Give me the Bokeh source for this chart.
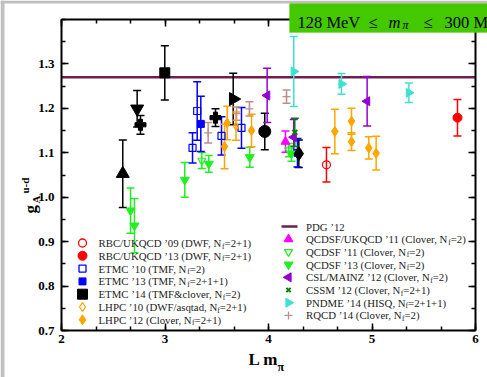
import math
from bokeh.plotting import figure
from bokeh.models import (Range1d, LinearAxis, BoxAnnotation, Label, FixedTicker,
                          CustomJSTickFormatter)
from bokeh.core.properties import value
from bokeh.embed import file_html
from bokeh.resources import INLINE

# ---------------- data ----------------
PDG_VALUE = 1.2701

rbc09_x = [4.560]; rbc09_y = [1.073]; rbc09_e = [0.039]
rbc13_x = [5.826]; rbc13_y = [1.179]; rbc13_e = [0.041]
etmc10_x = [3.266, 3.311, 3.546, 3.739]
etmc10_y = [1.111, 1.194, 1.138, 1.156]
etmc10_e = [0.034, 0.066, 0.043, 0.046]
etmc13_x = [3.346, 4.280]
etmc13_y = [1.165, 1.100]
etmc13_e = [0.062, 0.032]
etmc14_x = [2.592, 2.731, 2.763, 2.998, 3.488, 3.659, 3.964, 4.293]
etmc14_y = [1.053, 1.199, 1.163, 1.280, 1.179, 1.221, 1.148, 1.098]
etmc14_e = [0.076, 0.041, 0.021, 0.061, 0.020, 0.058, 0.041, 0.031]
lhpc10_x = [3.686]; lhpc10_y = [1.160]; lhpc10_e = [0.032]
lhpc12_x = [3.575, 3.601, 3.836, 4.641, 4.802, 4.802, 4.969, 5.040]
lhpc12_y = [1.114, 1.167, 1.150, 1.148, 1.171, 1.125, 1.111, 1.099]
lhpc12_e = [0.050, 0.0375, 0.0365, 0.050, 0.029, 0.020, 0.025, 0.038]
qcdsfuk11_x = [4.164]; qcdsfuk11_y = [1.125]; qcdsfuk11_e = [0.024]
qcdsf11_x = [3.356, 4.196]; qcdsf11_y = [1.0825, 1.106]; qcdsf11_e = [0.018, 0.015]
qcdsf13_x = [2.667, 2.705, 3.191, 3.423, 3.819, 4.222]
qcdsf13_y = [0.970, 0.936, 1.039, 1.075, 1.090, 1.098]
qcdsf13_e = [0.051, 0.061, 0.039, 0.019, 0.0225, 0.017]
csl12_x = [3.987, 4.953, 4.244]; csl12_y = [1.229, 1.216, 1.135]; csl12_e = [0.061, 0.0555, 0.040]
cssm12_x = [4.254]; cssm12_y = [1.146]; cssm12_e = [0.032]
pndme14_x = [4.244, 4.705, 5.356]; pndme14_y = [1.283, 1.255, 1.235]; pndme14_e = [0.079, 0.0235, 0.022]
rqcd14_x = [4.174, 3.816, 3.417, 3.691]; rqcd14_y = [1.2265, 1.199, 1.145, 1.188]; rqcd14_e = [0.015, 0.016, 0.023, 0.015]

x_ticks = [2, 3, 4, 5, 6]
y_ticks = [0.7, 0.8, 0.9, 1.0, 1.1, 1.2, 1.3]

# ---------------- layout helpers ----------------
W, H = 487, 377
X0, X1, Y0, Y1 = 2.0, 6.0, 0.7, 1.4          # visible plot box
FL, FR, FT, FB = 61, 475, 19, 330           # plot box edges on the canvas (px)
SX = (FR - FL) / (X1 - X0)
SY = (FB - FT) / (Y1 - Y0)
XS, XE = X0 - FL / SX, X0 - FL / SX + W / SX
YE = Y1 + FT / SY
YS = YE - H / SY

def dx(px):
    return XS + px / SX
def dy(py):
    return YE - py / SY

SERIF = "Liberation Serif"

p = figure(width=W, height=H, x_range=Range1d(XS, XE), y_range=Range1d(YS, YE),
           output_backend="svg", toolbar_location=None,
           min_border_left=0, min_border_right=0, min_border_top=0, min_border_bottom=0)
p.xgrid.visible = False
p.ygrid.visible = False
p.outline_line_color = None
p.background_fill_color = "white"
p.border_fill_color = "white"

def style_axis(ax, ticks, minor, bounds, loc, labels=True):
    ax.ticker = FixedTicker(ticks=ticks, minor_ticks=minor)
    ax.bounds = bounds
    ax.fixed_location = loc
    ax.major_tick_in = 7
    ax.major_tick_out = 0
    ax.minor_tick_in = 4
    ax.minor_tick_out = 0
    ax.major_tick_line_width = 1.5
    ax.minor_tick_line_width = 1.5
    ax.axis_line_width = 2
    ax.major_label_text_font = SERIF
    ax.major_label_text_font_style = "bold"
    ax.major_label_text_font_size = "13px"
    ax.major_label_text_color = "black"
    if not labels:
        ax.formatter = CustomJSTickFormatter(code="return ''")
        ax.major_label_standoff = 0

x_minor = [2 + i / 3 for i in range(13)]
y_minor = [0.7 + i * 0.05 for i in range(15)]
style_axis(p.xaxis[0], x_ticks, x_minor, (X0, X1), Y0)
style_axis(p.yaxis[0], y_ticks, y_minor, (Y0, Y1), X0)
p.xaxis[0].major_label_standoff = 4
p.yaxis[0].major_label_standoff = 7
p.yaxis[0].formatter = CustomJSTickFormatter(code="return tick.toFixed(1)")
top_ax = LinearAxis()
right_ax = LinearAxis()
style_axis(top_ax, x_ticks, x_minor, (X0, X1), Y1, labels=False)
style_axis(right_ax, y_ticks, y_minor, (Y0, Y1), X1, labels=False)
p.add_layout(top_ax, "above")
p.add_layout(right_ax, "right")

# grey page strips of the original screenshot
p.add_layout(BoxAnnotation(right=dx(4), fill_color="#c0c0c0", fill_alpha=1, line_alpha=0))
p.add_layout(BoxAnnotation(bottom=dy(3), fill_color="#c0c0c0", fill_alpha=1, line_alpha=0))

# PDG line
p.line([X0, X1], [PDG_VALUE, PDG_VALUE], line_color="#6e1e50", line_width=2.5)

def errbars(xs, ys, es, color, cap=8, lw=1.5, alpha=1.0):
    lo = [y - e for y, e in zip(ys, es)]
    hi = [y + e for y, e in zip(ys, es)]
    p.segment(xs, lo, xs, hi, line_color=color, line_width=lw, line_alpha=alpha)
    p.scatter(xs + xs, lo + hi, marker="dash", size=cap, line_color=color, line_width=lw,
              line_alpha=alpha)

RED, BLUE, ORANGE, MAG, GREEN, PURPLE, DKGREEN, CYAN, ROSY = (
    "#ff0000", "#0000ff", "#ffa500", "#ff00ff", "#22ee22", "#9400d3", "#008000", "#40e0d0", "#bc8f8f")

# error bars
errbars(etmc14_x, etmc14_y, etmc14_e, "black")
errbars(qcdsf13_x, qcdsf13_y, qcdsf13_e, GREEN)
errbars(qcdsf11_x, qcdsf11_y, qcdsf11_e, GREEN)
errbars(etmc10_x, etmc10_y, etmc10_e, BLUE)
errbars(etmc13_x, etmc13_y, etmc13_e, BLUE)
errbars(rqcd14_x, rqcd14_y, rqcd14_e, ROSY)
errbars(lhpc10_x, lhpc10_y, lhpc10_e, ORANGE)
errbars(lhpc12_x, lhpc12_y, lhpc12_e, ORANGE)
errbars(csl12_x, csl12_y, csl12_e, PURPLE)
errbars(pndme14_x, pndme14_y, pndme14_e, CYAN)
errbars(cssm12_x, cssm12_y, cssm12_e, DKGREEN)
errbars(qcdsfuk11_x, qcdsfuk11_y, qcdsfuk11_e, MAG)
errbars(rbc09_x, rbc09_y, rbc09_e, RED)
errbars(rbc13_x, rbc13_y, rbc13_e, RED)

# markers
p.scatter(etmc13_x, etmc13_y, marker="square", size=7, color=BLUE)
p.scatter(etmc10_x, etmc10_y, marker="square", size=7, fill_color="white", fill_alpha=0,
          line_color=BLUE, line_width=1.2)
p.scatter(rqcd14_x, rqcd14_y, marker="cross", size=8, line_color=ROSY, line_width=1.2)
p.scatter(lhpc10_x, lhpc10_y, marker="diamond", size=8, fill_alpha=0, line_color=ORANGE, line_width=1.2)
p.scatter(lhpc12_x, lhpc12_y, marker="diamond", size=10, color=ORANGE)
p.scatter(qcdsf13_x, qcdsf13_y, marker="inverted_triangle", size=9, color=GREEN)
p.scatter(qcdsf11_x, qcdsf11_y, marker="inverted_triangle", size=8, fill_alpha=0,
          line_color=GREEN, line_width=1.2)
p.scatter(csl12_x, csl12_y, marker="triangle", angle=math.pi / 2, size=9, color=PURPLE)
p.scatter(pndme14_x, pndme14_y, marker="triangle", angle=-math.pi / 2, size=9, color=CYAN)
p.scatter(cssm12_x, cssm12_y, marker="x", size=7, line_color=DKGREEN, line_width=2)
p.scatter(qcdsfuk11_x, qcdsfuk11_y, marker="triangle", size=9, color=MAG)
p.scatter(rbc09_x, rbc09_y, marker="circle", size=8, fill_alpha=0, line_color=RED, line_width=1.2)
p.scatter(rbc13_x, rbc13_y, marker="circle", size=9, color=RED)

etmc14_marker = ["triangle", "inverted_triangle", "plus", "square", "plus", "triangle", "circle", "diamond"]
etmc14_angle = [0, 0, 0, 0, 0, -math.pi / 2, 0, 0]
etmc14_size = [13, 13, 11, 10, 11, 13, 12, 14]
p.scatter(etmc14_x, etmc14_y, marker=etmc14_marker, angle=etmc14_angle, size=etmc14_size,
          color="black")

# ---------------- legend (manual) ----------------
TW = {' ': 250, '(': 333, ')': 333, '+': 564, ',': 250, '-': 333, '.': 250, '/': 278, '=': 564,
      '&': 778, '’': 333}
for ch in "0123456789":
    TW[ch] = 500
TW.update(dict(zip("ABCDEFGHIJKLMNOPQRSTUVWXYZ",
                   [722, 667, 667, 722, 611, 556, 722, 722, 333, 389, 722, 611, 889, 722, 722, 556,
                    722, 667, 556, 611, 722, 722, 944, 722, 722, 611])))
TW.update(dict(zip("abcdefghijklmnopqrstuvwxyz",
                   [444, 500, 444, 500, 444, 333, 500, 500, 278, 278, 500, 278, 778, 500, 500, 500,
                    500, 333, 389, 278, 500, 500, 722, 500, 500, 444])))

def twidth(s, size):
    return sum(TW.get(c, 500) for c in s) * size / 1000.0

LEG_SIZE = 10.8
SUB_SIZE = 7.5
LEG_COLOR = "#222222"

def legend_text(px, py, pre, post):
    p.text([dx(px)], [dy(py)], text=[pre], text_font=value(SERIF),
           text_font_size=f"{LEG_SIZE}px", text_baseline="middle", text_color=LEG_COLOR)
    if post is None:
        return
    w = twidth(pre, LEG_SIZE)
    p.text([dx(px + w)], [dy(py + 3)], text=["f"], text_font=value(SERIF),
           text_font_size=f"{SUB_SIZE}px", text_baseline="middle", text_color=LEG_COLOR)
    w2 = twidth("f", SUB_SIZE)
    p.text([dx(px + w + w2)], [dy(py)], text=[post], text_font=value(SERIF),
           text_font_size=f"{LEG_SIZE}px", text_baseline="middle", text_color=LEG_COLOR)

left_labels = [("RBC/UKQCD ’09 (DWF, N", "=2+1)"), ("RBC/UKQCD ’13 (DWF, N", "=2+1)"),
               ("ETMC ’10 (TMF, N", "=2)"), ("ETMC ’13 (TMF, N", "=2+1+1)"),
               ("ETMC ’14 (TMF&clover, N", "=2)"), ("LHPC ’10 (DWF/asqtad, N", "=2+1)"),
               ("LHPC ’12 (Clover, N", "=2+1)")]
right_labels = [("PDG ’12", None), ("QCDSF/UKQCD ’11 (Clover, N", "=2)"),
                ("QCDSF ’11 (Clover, N", "=2)"), ("QCDSF ’13 (Clover, N", "=2)"),
                ("CSL/MAINZ ’12 (Clover, N", "=2)"), ("CSSM ’12 (Clover, N", "=2+1)"),
                ("PNDME ’14 (HISQ, N", "=2+1+1)"), ("RQCD ’14 (Clover, N", "=2)")]

LX_M, LX_T, L_Y0, L_DY = 82, 98, 242.5, 12.8
RX_M, RX_T, R_Y0, R_DY = 288, 305.5, 226.0, 12.7
for i, (pre, post) in enumerate(left_labels):
    legend_text(LX_T, L_Y0 + i * L_DY, pre, post)
for i, (pre, post) in enumerate(right_labels):
    legend_text(RX_T, R_Y0 + i * R_DY, pre, post)

ly = [dy(L_Y0 + i * L_DY) for i in range(7)]
lx = dx(LX_M)
p.scatter([lx], [ly[0]], marker="circle", size=8, fill_alpha=0, line_color=RED, line_width=1.3)
p.scatter([lx], [ly[1]], marker="circle", size=9, color=RED)
p.scatter([lx], [ly[2]], marker="square", size=7, fill_alpha=0, line_color=BLUE, line_width=1.3)
p.scatter([lx], [ly[3]], marker="square", size=7, color=BLUE)
p.scatter([lx], [ly[4]], marker="square", size=10, color="black")
p.scatter([lx], [ly[5]], marker="diamond", size=9, fill_alpha=0, line_color=ORANGE, line_width=1.3)
p.scatter([lx], [ly[6]], marker="diamond", size=10, color=ORANGE)

ry = [dy(R_Y0 + i * R_DY) for i in range(8)]
rx = dx(RX_M)
p.line([dx(RX_M - 7), dx(RX_M + 9)], [ry[0], ry[0]], line_color="#6e1e50", line_width=2.5)
p.scatter([rx], [ry[1]], marker="triangle", size=9, color=MAG)
p.scatter([rx], [ry[2]], marker="inverted_triangle", size=8, fill_alpha=0, line_color=GREEN, line_width=1.3)
p.scatter([rx], [ry[3]], marker="inverted_triangle", size=9, color=GREEN)
p.scatter([rx], [ry[4]], marker="triangle", angle=math.pi / 2, size=9, color=PURPLE)
p.scatter([rx], [ry[5]], marker="x", size=6, line_color=DKGREEN, line_width=2)
p.scatter([rx], [ry[6]], marker="triangle", angle=-math.pi / 2, size=9, color=CYAN)
p.scatter([rx], [ry[7]], marker="cross", size=8, line_color=ROSY, line_width=1.3)

# ---------------- green box ----------------
p.add_layout(BoxAnnotation(left=dx(289), right=dx(500), top=dy(3), bottom=dy(32),
                           fill_color="#44c800", fill_alpha=1.0, line_color="#5ad21e",
                           line_width=1))

def lab(px, py, text, size, style="normal", angle=0.0, color="black", font=SERIF):
    p.add_layout(Label(x=dx(px), y=dy(py), text=text, text_font=font, text_font_size=f"{size}px",
                       text_font_style=style, text_baseline="alphabetic", angle=angle,
                       text_color=color))

lab(297, 21.5, "128 MeV", 16.5)
lab(368, 21.5, "≤", 16.5)
lab(388, 21.5, "m", 16.5, "italic")
lab(402, 24.5, "π", 12, "italic")
lab(423, 21.5, "≤", 16.5)
lab(444, 21.5, "300 MeV", 16.5)

# axis labels
lab(248, 359, "L m", 17, "bold")
lab(277, 366, "π", 12, "bold")
lab(30, 213, "g", 17, "bold", angle=math.pi / 2)
lab(35, 203, "A", 11, "bold", angle=math.pi / 2)
lab(24, 193, "u-d", 11, "bold", angle=math.pi / 2)

open("out.html", "w").write(file_html(p, INLINE))
